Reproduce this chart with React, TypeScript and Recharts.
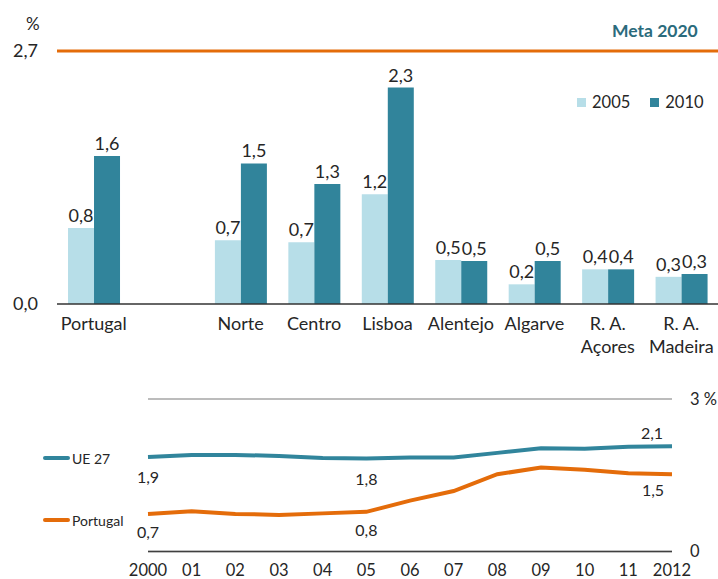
import React from 'react';
import {
  BarChart, Bar, XAxis, YAxis, LabelList, ReferenceLine, Legend,
  LineChart, Line, CartesianGrid,
} from 'recharts';

// ---- Top chart data ----
const categories = ['Portugal', '', 'Norte', 'Centro', 'Lisboa', 'Alentejo', 'Algarve', 'R. A.\nAçores', 'R. A.\nMadeira'];
const values2005 = [0.81, null, 0.68, 0.66, 1.17, 0.47, 0.21, 0.37, 0.29];
const values2010 = [1.58, null, 1.50, 1.28, 2.31, 0.46, 0.46, 0.37, 0.32];
const barTicks = [0, 2.7];
const metaValue = 2.7;
const metaLabel = 'Meta 2020';

// ---- Bottom chart data ----
const years = ['2000', '01', '02', '03', '04', '05', '06', '07', '08', '09', '10', '11', '2012'];
const ue27 = [1.86, 1.90, 1.90, 1.88, 1.84, 1.83, 1.85, 1.85, 1.94, 2.03, 2.02, 2.06, 2.07];
const portugal = [0.74, 0.79, 0.74, 0.72, 0.75, 0.78, 1.0, 1.19, 1.52, 1.65, 1.61, 1.54, 1.52];
const lineTicks = [0, 3];
const lineSeriesNames = ['UE 27', 'Portugal'];

const barData = categories.map((c, i) => ({ name: c, y2005: values2005[i], y2010: values2010[i] }));
const lineData = years.map((y, i) => ({ year: y, ue: ue27[i], pt: portugal[i] }));

const FONT = 'Lato, "Open Sans", sans-serif';
const TXT = '#262626';
const LIGHT = '#B7DEE8';
const DARK = '#31849B';
const ORANGE = '#E46C0A';
const TEAL_LINE = '#31859C';

const fmt = (v: any) => (v === null || v === undefined || v === '' ? '' : Number(v).toFixed(1).replace('.', ','));

const CatTick = (props: any) => {
  const { x, y, payload } = props;
  const lines = String(payload.value).split('\n');
  return (
    <text x={x} y={y} textAnchor="middle" fill={TXT} fontSize={18}>
      {lines.map((l, i) => (
        <tspan key={i} x={x} dy={i === 0 ? 26 : 23}>{l}</tspan>
      ))}
    </text>
  );
};

const BarLegend = (props: any) => {
  const { payload } = props;
  return (
    <div style={{ display: 'flex', alignItems: 'center', fontSize: 16.5, color: TXT, whiteSpace: 'nowrap' }}>
      {(payload || []).map((p: any, i: number) => (
        <div key={i} style={{ display: 'flex', alignItems: 'center', marginRight: i === 0 ? 20 : 0 }}>
          <span style={{ width: 9, height: 9, background: p.color, display: 'inline-block', marginRight: 6 }} />
          <span>{p.value}</span>
        </div>
      ))}
    </div>
  );
};

const LineLegend = (props: any) => {
  const payload: any[] = props.payload || [];
  const ordered = lineSeriesNames.map((n) => payload.find((p) => p.value === n)).filter(Boolean);
  const tops = [0, 62];
  return (
    <div style={{ position: 'relative', width: 120, height: 90, fontSize: 14, color: TXT }}>
      {ordered.map((p: any, i: number) => (
        <div key={i} style={{ position: 'absolute', left: 0, top: tops[i], display: 'flex', alignItems: 'center', whiteSpace: 'nowrap', height: 18 }}>
          <span style={{ width: 27, height: 4, borderRadius: 2, background: p.color, display: 'inline-block', marginRight: 2 }} />
          <span>{p.value}</span>
        </div>
      ))}
    </div>
  );
};

type Spec = { [k: number]: { dx: number; dy: number } };
const ueSpecs: Spec = { 0: { dx: 0, dy: 20 }, 5: { dx: 0, dy: 20 }, 12: { dx: -20, dy: -14 } };
const ptSpecs: Spec = { 0: { dx: 0, dy: 18 }, 5: { dx: 0, dy: 18 }, 12: { dx: -19, dy: 15 } };

const makeLineLabel = (specs: Spec) => (props: any) => {
  const { index, value } = props;
  const vb = props.viewBox || {};
  const x = props.x ?? vb.x;
  const y = props.y ?? vb.y;
  const s = specs[index];
  if (!s || x === undefined || y === undefined) return null;
  return (
    <text key={`l-${index}`} x={x + s.dx} y={y + s.dy} textAnchor="middle" dominantBaseline="central" fill={TXT} fontSize={16}>
      {fmt(value)}
    </text>
  );
};

export default function App() {
  return (
    <div style={{ position: 'absolute', left: 0, top: 0, width: 718, height: 579, fontFamily: FONT, background: '#fff', overflow: 'hidden' }}>
      <div style={{ position: 'absolute', left: 26, top: 13, fontSize: 17, color: TXT }}>%</div>
      <div style={{ position: 'absolute', left: 612, top: 20, fontSize: 17.5, fontWeight: 700, color: '#2B6B7C' }}>{metaLabel}</div>
      <div style={{ position: 'absolute', left: 0, top: 0 }}>
        <BarChart width={718} height={375} data={barData} margin={{ top: 51, right: 0, left: 0, bottom: 0 }} barCategoryGap="15%" barGap={0}>
          <XAxis dataKey="name" height={71} tick={<CatTick />} tickLine={false} tickSize={0} tickMargin={0} interval={0}
            axisLine={{ stroke: '#333', strokeWidth: 1.5 }} />
          <YAxis width={57} domain={[0, 2.7]} ticks={barTicks} tickFormatter={fmt} axisLine={false} tickLine={false} tickSize={0} tickMargin={19}
            tick={{ fill: TXT, fontSize: 18 }} />
          <ReferenceLine y={metaValue} stroke={ORANGE} strokeWidth={3} />
          <Legend verticalAlign="middle" align="center" content={<BarLegend />} wrapperStyle={{ left: 577, top: 92, width: 140 }} />
          <Bar dataKey="y2005" name="2005" fill={LIGHT} isAnimationActive={false}>
            <LabelList dataKey="y2005" position="top" offset={6} formatter={fmt} fill={TXT} fontSize={18} />
          </Bar>
          <Bar dataKey="y2010" name="2010" fill={DARK} isAnimationActive={false}>
            <LabelList dataKey="y2010" position="top" offset={6} formatter={fmt} fill={TXT} fontSize={18} />
          </Bar>
        </BarChart>
      </div>
      <div style={{ position: 'absolute', left: 0, top: 375 }}>
        <LineChart width={718} height={214} data={lineData} margin={{ top: 24, right: 0, left: 148, bottom: 10 }}>
          <CartesianGrid vertical={false} stroke="#A6A6A6" strokeWidth={1.5} />
          <XAxis dataKey="year" height={27.5} interval={0} tickLine={false} tickSize={0} tickMargin={13}
            axisLine={{ stroke: '#404040', strokeWidth: 1.5 }} tick={{ fill: TXT, fontSize: 16.5 }} />
          <YAxis orientation="right" width={46} domain={[0, 3]} ticks={lineTicks} axisLine={false} tickLine={false} tickSize={0} tickMargin={18}
            tickFormatter={(v: number) => (v === 3 ? '3 %' : String(v))} tick={{ fill: TXT, fontSize: 16.5 }} />
          <Legend verticalAlign="middle" align="center" content={<LineLegend />} wrapperStyle={{ left: 43, top: 74, width: 120 }} />
          <Line dataKey="ue" name="UE 27" stroke={TEAL_LINE} strokeWidth={4} dot={false} isAnimationActive={false} label={makeLineLabel(ueSpecs)} />
          <Line dataKey="pt" name="Portugal" stroke={ORANGE} strokeWidth={4} dot={false} isAnimationActive={false} label={makeLineLabel(ptSpecs)} />
        </LineChart>
      </div>
    </div>
  );
}
